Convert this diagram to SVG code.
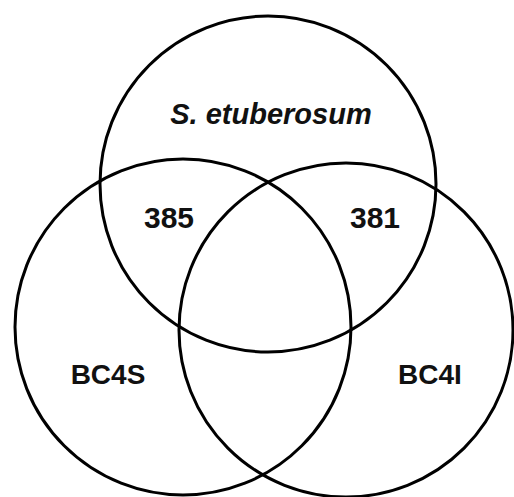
<svg xmlns="http://www.w3.org/2000/svg" width="514" height="497" viewBox="0 0 514 497">
  <style>
    .set { fill: none; stroke: #000; stroke-width: 3; }
    .lbl { font-family: "Liberation Sans", Arial, sans-serif; font-weight: bold; fill: #111; text-anchor: middle; }
  </style>
  <rect width="514" height="497" fill="#fff"/>
  <g id="set-etuberosum">
    <circle class="set" cx="268" cy="184" r="168"/>
    <text class="lbl" x="271" y="124" font-size="29" font-style="italic">S. etuberosum</text>
  </g>
  <g id="set-bc4s">
    <circle class="set" cx="183" cy="327" r="168"/>
    <text class="lbl" x="108" y="384" font-size="28">BC4S</text>
  </g>
  <g id="set-bc4i">
    <circle class="set" cx="346" cy="330" r="167"/>
    <text class="lbl" x="430" y="384" font-size="28">BC4I</text>
  </g>
  <g id="overlap-counts">
    <text class="lbl" x="169" y="228" font-size="30">385</text>
    <text class="lbl" x="375" y="228" font-size="30">381</text>
  </g>
</svg>
